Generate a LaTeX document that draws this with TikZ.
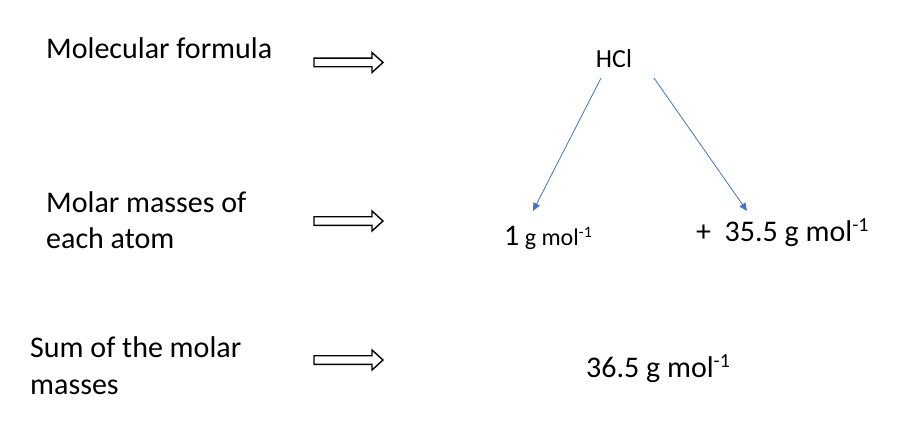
\documentclass[tikz,border=0pt]{standalone}
\usepackage{fontspec}
\setmainfont{Carlito}
\usetikzlibrary{arrows.meta}
\definecolor{arrblue}{HTML}{4472C4}
\newcommand\fsz[1]{\fontsize{#1}{#1}\selectfont}
\newcommand\supr[3]{\raisebox{#1}{\fsz{#2}#3}}
\tikzset{
  lbl/.style={anchor=base west, inner sep=0pt, font=\fsz{30}},
  val/.style={anchor=base west, inner sep=0pt, font=\fsz{30}},
  bluearr/.style={draw=arrblue, line width=0.8pt, -{Triangle[length=8pt,width=7pt]}},
  hollow/.style={draw=black, line width=1.4pt, fill=white, line join=miter},
  pics/hollowarr/.style={code={
    \draw[hollow] (0,-4.3) -- (58,-4.3) -- (58,-10) -- (69,0) -- (58,10) -- (58,4.3) -- (0,4.3) -- cycle;
  }}
}
\begin{document}
\begin{tikzpicture}[x=1pt,y=-1pt]
\useasboundingbox (0,0) rectangle (916,436);
% left labels
\node[lbl] (mf) at (46,59) {Molecular formula};
\node[lbl] (mm1) at (46,212) {Molar masses of};
\node[lbl] (mm2) at (46,248) {each atom};
\node[lbl] (sm1) at (30,357) {Sum of the molar};
\node[lbl] (sm2) at (30,394) {masses};
% hollow arrows
\pic (ha1) at (314,62.5) {hollowarr};
\pic (ha2) at (314,221) {hollowarr};
\pic (ha3) at (314,360) {hollowarr};
% values
\node[anchor=base, inner sep=0pt, font=\fsz{26}] (hcl) at (614,68) {HCl};
\node[val] (m1) at (504,245) {1\fsz{24} g mol\supr{8pt}{16}{-1}};
\node[val] (m2) at (696,241) {+\ \ 35.5 g mol\supr{10pt}{20}{-1}};
\node[val] (sum) at (586,377) {36.5 g mol\supr{10pt}{20}{-1}};
% blue arrows
\coordinate (hl) at (601,78);
\coordinate (hr) at (654,78);
\coordinate (tl) at (533,211);
\coordinate (tr) at (747,211);
\draw[bluearr] (hl) -- (tl);
\draw[bluearr] (hr) -- (tr);
\end{tikzpicture}
\end{document}
